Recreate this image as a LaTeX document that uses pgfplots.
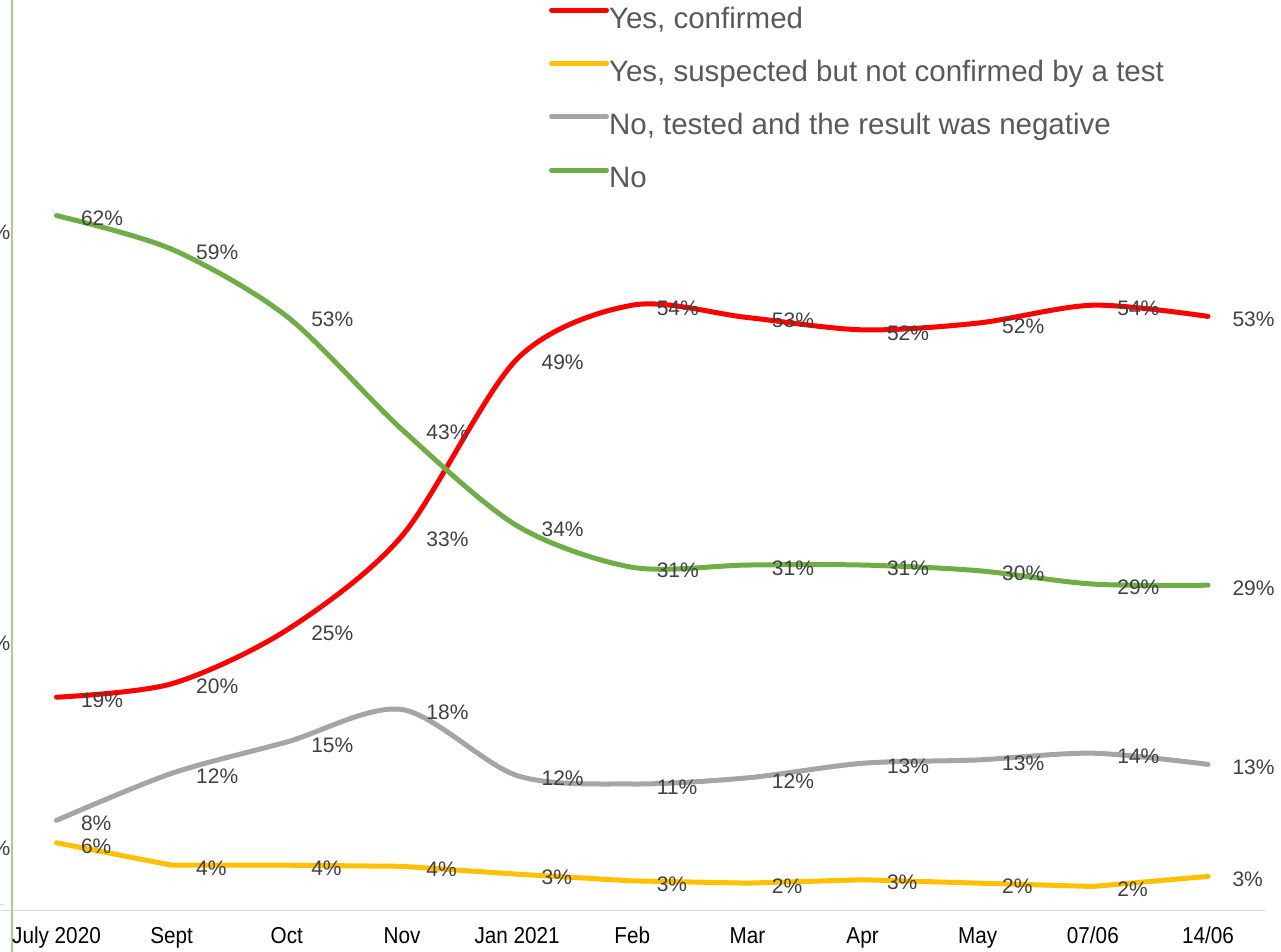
\documentclass[border=0pt]{standalone}
\usepackage{pgfplots}
\pgfplotsset{compat=1.18}
\usepackage{fontspec}
\setmainfont{Liberation Sans}
\newfontfamily\tickfont[FakeStretch=0.9]{Liberation Sans}
\definecolor{cRed}{HTML}{FF0000}
\definecolor{cYellow}{HTML}{FFC000}
\definecolor{cGray}{HTML}{A5A5A5}
\definecolor{cGreen}{HTML}{70AD47}
\definecolor{axisgray}{HTML}{D9D9D9}
\definecolor{leftgreen}{HTML}{A9D18E}
\definecolor{labelgray}{HTML}{404040}
\definecolor{legendgray}{HTML}{595959}
\begin{document}
\begin{tikzpicture}[x=1pt,y=1pt]
\draw[color=axisgray, line width=1.5pt] (0,41.5) -- (1265,41.5);
\draw[color=axisgray, line width=1pt] (0,47) -- (4,47);
\draw[color=leftgreen, line width=2pt] (12,0) -- (12,952);
\foreach \yy in {720,309,104} {\node[anchor=east, inner sep=0pt, text=labelgray, font=\fontsize{21}{25}\selectfont] at (10.5,\yy) {60\%};}
\begin{axis}[
  at={(12pt,42pt)}, anchor=south west,
  scale only axis, width=1253pt, height=910pt,
  xmin=-0.3865, xmax=10.495, ymin=0, ymax=81.25,
  axis line style={draw=none},
  ytick=\empty,
  xtick={0,...,10},
  xticklabels={July 2020,Sept,Oct,Nov,Jan 2021,Feb,Mar,Apr,May,07/06,14/06},
  major tick length=0pt, tick style={draw=none},
  xticklabel style={font=\tickfont\fontsize{23}{27}\selectfont, anchor=base, yshift=-34pt, inner sep=0pt, text=black},
  clip=false,
  every axis plot/.append style={line width=5pt, line cap=round, line join=round},
  point meta=explicit symbolic,
  nodes near coords,
  every node near coord/.append style={anchor=west, xshift=22pt, yshift=-3pt, inner sep=0pt, font=\fontsize{21}{25}\selectfont, text=labelgray},
  legend style={at={(0.4286,0.9923)}, anchor=north west, draw=none, fill=none, inner sep=0pt, outer sep=0pt,
    font=\fontsize{29.5}{34}\selectfont, text=legendgray, row sep=26.3pt, column sep=0pt,
    nodes={inner sep=0pt, text height=21pt, text depth=6pt}},
  legend cell align=left,
  legend image code/.code={\draw[#1, line width=5pt, line cap=round] (0pt,10.4pt) -- (55pt,10.4pt);},
]
\addplot[cRed, smooth, tension=0.5] coordinates {
 (0,19.0) [19\%] (1,20.2) [20\%] (2,25.0) [25\%] (3,33.4) [33\%] (4,49.2) [49\%]
 (5,54.0) [54\%] (6,52.9) [53\%] (7,51.8) [52\%] (8,52.4) [52\%] (9,54.0) [54\%] (10,53.0) [53\%]};
\addlegendentry{Yes, confirmed}
\addplot[cYellow] coordinates {
 (0,6.0) [6\%] (1,4.0) [4\%] (2,4.0) [4\%] (3,3.9) [4\%] (4,3.2) [3\%]
 (5,2.6) [3\%] (6,2.4) [2\%] (7,2.7) [3\%] (8,2.4) [2\%] (9,2.1) [2\%] (10,3.0) [3\%]};
\addlegendentry{Yes, suspected but not confirmed by a test}
\addplot[cGray, smooth, tension=0.5] coordinates {
 (0,8.0) [8\%] (1,12.2) [12\%] (2,15.0) [15\%] (3,17.9) [18\%] (4,12.0) [12\%]
 (5,11.25) [11\%] (6,11.8) [12\%] (7,13.1) [13\%] (8,13.4) [13\%] (9,14.0) [14\%] (10,13.0) [13\%]};
\addlegendentry{No, tested and the result was negative}
\addplot[cGreen, smooth, tension=0.5] coordinates {
 (0,62.0) [62\%] (1,59.0) [59\%] (2,53.0) [53\%] (3,42.9) [43\%] (4,34.3) [34\%]
 (5,30.6) [31\%] (6,30.8) [31\%] (7,30.8) [31\%] (8,30.3) [30\%] (9,29.1) [29\%] (10,29.0) [29\%]};
\addlegendentry{No}
\end{axis}
\pgfresetboundingbox
\useasboundingbox (0,0) rectangle (1281,952);
\end{tikzpicture}
\end{document}
